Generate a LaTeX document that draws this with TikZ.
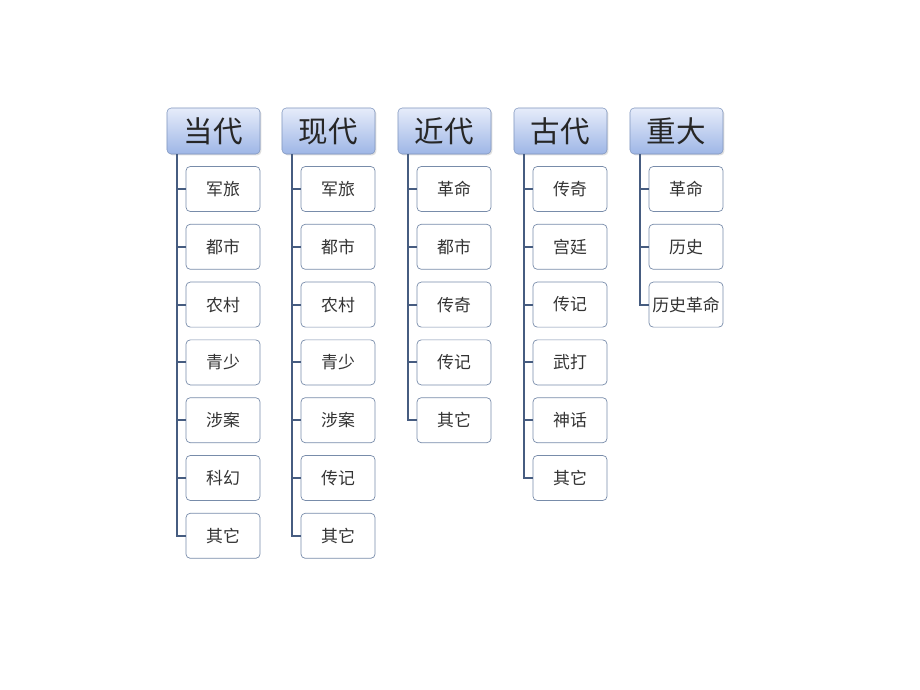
\documentclass[tikz,border=0pt]{standalone}
\usepackage{fontspec}
\newfontfamily\cjk{Noto Sans CJK SC}
\usetikzlibrary{shadows}

\definecolor{hdrtop}{RGB}{230,236,250}
\definecolor{hdrbot}{RGB}{158,182,230}
\definecolor{hdredge}{RGB}{128,150,190}
\definecolor{leafedge}{RGB}{120,140,170}
\definecolor{trunkcol}{RGB}{70,92,128}

\tikzset{
	hdr/.style={draw=hdredge, rounded corners=3pt, top color=hdrtop, bottom color=hdrbot,
		minimum width=2.325cm, minimum height=1.15cm, inner sep=0pt,
		font=\cjk\fontsize{21}{21}\selectfont, text=black!85,
		drop shadow={shadow xshift=1pt, shadow yshift=-1pt, opacity=0.25}},
	leaf/.style={draw=leafedge, rounded corners=3pt, fill=white, line width=0.5pt,
		minimum width=1.85cm, minimum height=1.125cm, inner sep=0pt,
		font=\cjk\fontsize{12}{12}\selectfont, text=black!80},
	trunk/.style={draw=trunkcol, line width=1.4pt}
}

\begin{document}
\begin{tikzpicture}[x=0.025cm, y=-0.025cm]
	% page frame
	\useasboundingbox (0, 0) rectangle (920, 690);
	
	% column heads
	\node[hdr] (dd) at (213.5, 131) {当代};
	\node[hdr] (xd) at (328.5, 131) {现代};
	\node[hdr] (jd) at (444.5, 131) {近代};
	\node[hdr] (gd) at (560.5, 131) {古代};
	\node[hdr] (zd) at (676.5, 131) {重大};
	
	% trunk positions
	\coordinate (ddt) at (177, 0);
	\coordinate (xdt) at (292, 0);
	\coordinate (jdt) at (408, 0);
	\coordinate (gdt) at (524, 0);
	\coordinate (zdt) at (640, 0);
	
	% leaves with their links
	\foreach \t [count=\i] in {军旅,都市,农村,青少,涉案,科幻,其它} {
		\node[leaf] (dd\i) at (223, 189 + 57.8*\i - 57.8) {\t};
		\draw[trunk] (dd.south -| ddt) |- (dd\i.west);
	}
	\foreach \t [count=\i] in {军旅,都市,农村,青少,涉案,传记,其它} {
		\node[leaf] (xd\i) at (338, 189 + 57.8*\i - 57.8) {\t};
		\draw[trunk] (xd.south -| xdt) |- (xd\i.west);
	}
	\foreach \t [count=\i] in {革命,都市,传奇,传记,其它} {
		\node[leaf] (jd\i) at (454, 189 + 57.8*\i - 57.8) {\t};
		\draw[trunk] (jd.south -| jdt) |- (jd\i.west);
	}
	\foreach \t [count=\i] in {传奇,宫廷,传记,武打,神话,其它} {
		\node[leaf] (gd\i) at (570, 189 + 57.8*\i - 57.8) {\t};
		\draw[trunk] (gd.south -| gdt) |- (gd\i.west);
	}
	\foreach \t [count=\i] in {革命,历史,历史革命} {
		\node[leaf] (zd\i) at (686, 189 + 57.8*\i - 57.8) {\t};
		\draw[trunk] (zd.south -| zdt) |- (zd\i.west);
	}
	
\end{tikzpicture}
\end{document}
